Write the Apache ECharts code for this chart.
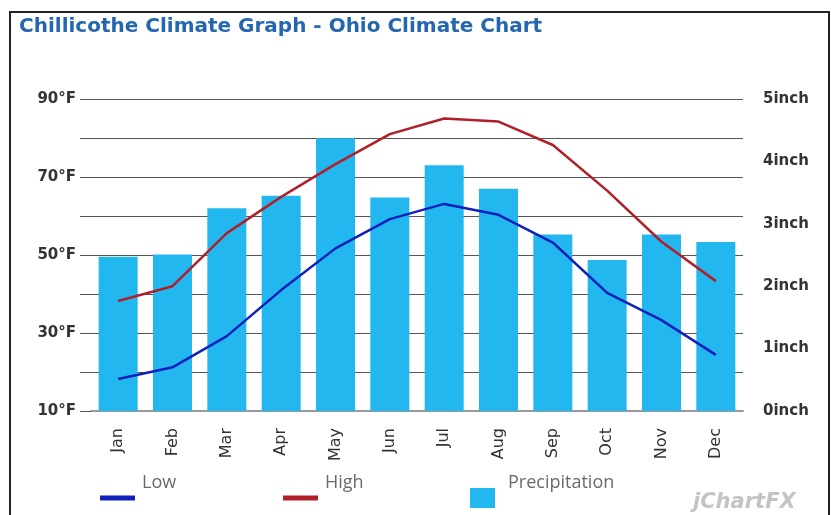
<!DOCTYPE html>
<html>
<head>
<meta charset="utf-8">
<script src="https://cdn.jsdelivr.net/npm/echarts@6/dist/echarts.min.js"></script>
<style>
  html, body { margin: 0; padding: 0; background: #fff; }
  #chart { width: 831px; height: 515px; }
</style>
</head>
<body>
<div id="chart"></div>
<script>
// 数据
const months = ['Jan', 'Feb', 'Mar', 'Apr', 'May', 'Jun', 'Jul', 'Aug', 'Sep', 'Oct', 'Nov', 'Dec'];
const lowTemp = [18.2, 21.2, 29.2, 41.0, 51.7, 59.2, 63.1, 60.3, 53.2, 40.3, 33.3, 24.4];
const highTemp = [38.2, 42.0, 55.6, 64.9, 73.3, 81.0, 85.0, 84.2, 78.2, 66.5, 53.4, 43.3];
const precip = [2.47, 2.51, 3.25, 3.45, 4.37, 3.42, 3.94, 3.56, 2.83, 2.42, 2.83, 2.71];
const tempTicks = [10, 30, 50, 70, 90];

const myChart = echarts.init(document.getElementById('chart'));

// 图例文字在图标右上方
const legendText = (pad) => ({
  color: '#6a6a6a',
  fontFamily: 'Open Sans',
  fontSize: 18,
  rich: { a: { padding: pad, color: '#6a6a6a', fontFamily: 'Open Sans', fontSize: 18 } }
});

const option = {
  animation: false,
  backgroundColor: '#fff',
  title: {
    text: 'Chillicothe Climate Graph - Ohio Climate Chart',
    left: 14,
    top: 12,
    textStyle: { color: '#2467b0', fontSize: 20, fontWeight: 'bold', fontFamily: 'DejaVu Sans' }
  },
  grid: { left: 91, right: 88, top: 99, bottom: 104, containLabel: false },
  legend: [
    {
      data: [{ name: 'Low', icon: 'rect' }],
      left: 100, top: 474, padding: 0,
      itemWidth: 35, itemHeight: 5, itemGap: 0,
      formatter: '{a|{name}}', textStyle: legendText([0, 0, 30, 2])
    },
    {
      data: [{ name: 'High', icon: 'rect' }],
      left: 283, top: 474, padding: 0,
      itemWidth: 35, itemHeight: 5, itemGap: 0,
      formatter: '{a|{name}}', textStyle: legendText([0, 0, 30, 2])
    },
    {
      data: [{ name: 'Precipitation', icon: 'rect' }],
      left: 470, top: 474, padding: 0,
      itemWidth: 25, itemHeight: 20, itemGap: 0,
      formatter: '{a|{name}}', textStyle: legendText([0, 0, 30, 8])
    }
  ],
  xAxis: {
    type: 'category',
    data: months,
    axisLine: { lineStyle: { color: '#9a9a9a', width: 2 } },
    axisTick: { show: false },
    axisLabel: {
      rotate: 90, margin: 17,
      color: '#333', fontSize: 16, fontFamily: 'DejaVu Sans'
    }
  },
  yAxis: [
    {
      type: 'value',
      min: 10, max: 90, interval: 10,
      axisLine: { show: false },
      axisTick: { show: true, length: 11, lineStyle: { color: '#555' } },
      splitLine: { lineStyle: { color: '#555', width: 1 } },
      axisLabel: {
        margin: 15, color: '#333', fontSize: 15, fontWeight: 'bold', fontFamily: 'DejaVu Sans',
        padding: [0, 0, 8, 0],
        formatter: v => tempTicks.includes(v) ? v + '°F' : ''
      }
    },
    {
      type: 'value',
      min: 0, max: 5, interval: 1,
      axisLine: { show: false },
      axisTick: { show: false },
      splitLine: { show: false },
      axisLabel: {
        margin: 20, color: '#333', fontSize: 15, fontWeight: 'bold', fontFamily: 'DejaVu Sans',
        padding: [0, 0, 10, 0],
        formatter: '{value}inch'
      }
    }
  ],
  series: [
    {
      name: 'Precipitation',
      type: 'bar',
      yAxisIndex: 1,
      data: precip,
      barWidth: 39,
      itemStyle: { color: '#22b8ef' },
      z: 1
    },
    {
      name: 'Low',
      type: 'line',
      data: lowTemp,
      symbol: 'none',
      lineStyle: { color: '#1020bb', width: 2.5 },
      itemStyle: { color: '#1020bb' },
      z: 3
    },
    {
      name: 'High',
      type: 'line',
      data: highTemp,
      symbol: 'none',
      lineStyle: { color: '#b0202a', width: 2.5 },
      itemStyle: { color: '#b0202a' },
      z: 3
    }
  ],
  graphic: [
    {
      type: 'rect',
      shape: { x: 10, y: 12, width: 819, height: 520 },
      style: { fill: 'none', stroke: '#222', lineWidth: 2 },
      silent: true
    },
    {
      type: 'text',
      left: 693, top: 492,
      style: { text: 'jChartFX', fill: '#c4c4c4', font: 'italic bold 21px "DejaVu Sans"' },
      silent: true
    }
  ]
};

myChart.setOption(option);
</script>
</body>
</html>
